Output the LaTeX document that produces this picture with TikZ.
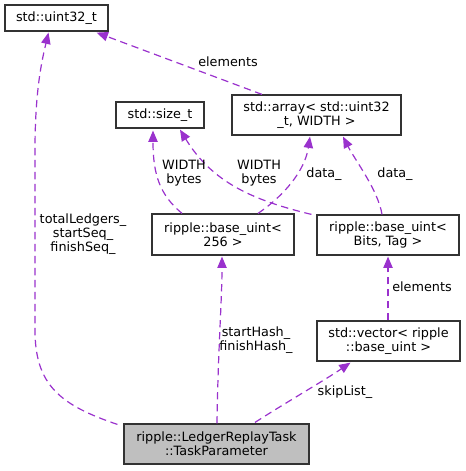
\documentclass[tikz,border=0pt]{standalone}
\usepackage{fontspec}
\setmainfont{DejaVu Sans}
\usetikzlibrary{arrows.meta,calc}
\definecolor{edgecol}{HTML}{9A32CD}
\definecolor{taskfill}{HTML}{BFBFBF}
\begin{document}
\begin{tikzpicture}[x=0.75pt,y=-0.75pt,
	cls/.style={draw=black!80,line width=0.9pt,fill=white,inner sep=0pt,align=center,font=\fontsize{9.6}{10.5}\selectfont},
	rel/.style={draw=edgecol,line width=0.9pt,dash pattern=on 5.5pt off 3.5pt,-{Triangle[length=8.5pt,width=7pt]}},
	lbl/.style={align=center,inner sep=0pt,font=\fontsize{9.6}{10.5}\selectfont}]
	\useasboundingbox (0,0) rectangle (465,471);

	% classes
	\node[cls,minimum width=103*0.75pt,minimum height=26*0.75pt] (uint32) at (56.5,18) {std::uint32\_t};
	\node[cls,minimum width=88*0.75pt,minimum height=26*0.75pt] (sizet) at (160,115) {std::size\_t};
	\node[cls,minimum width=169*0.75pt,minimum height=40*0.75pt] (array) at (316.5,115) {std::array< std::uint32\\\_t, WIDTH >};
	\node[cls,minimum width=142*0.75pt,minimum height=41*0.75pt] (bu256) at (223,234.5) {ripple::base\_uint<\\256 >};
	\node[cls,minimum width=142*0.75pt,minimum height=40*0.75pt] (bubits) at (388,235) {ripple::base\_uint<\\Bits, Tag >};
	\node[cls,minimum width=143*0.75pt,minimum height=40*0.75pt] (vec) at (388.5,341) {std::vector< ripple\\::base\_uint >};
	\node[cls,fill=taskfill,minimum width=185*0.75pt,minimum height=40*0.75pt] (task) at (216.5,444) {ripple::LedgerReplayTask\\::TaskParameter};

	% members
	\draw[rel] ($(task.north west)+(-6,1)$) .. controls (60,405) and (35,385) .. (35,330)
		-- (35,150) .. controls (35,90) and (42,60) .. ($(uint32.south)+(-8,1)$);
	\draw[rel] ($(task.north)+(0.5,0)$) .. controls (218,350) and (222,300) .. ($(bu256.south)+(-1,1)$);
	\draw[rel] ($(task.north)+(38.5,-1)$) .. controls (290,400) and (325,380) .. ($(vec.south)+(-38,1)$);
	\draw[rel] ($(vec.north)+(-0.5,0)$) -- ($(bubits.south)+(0,1)$);
	\draw[rel] ($(bu256.north)+(-41,0)$) .. controls (160,195) and (153,175) .. ($(sizet.south)+(-7,2)$);
	\draw[rel] ($(bubits.north west)+(-5,0)$) .. controls (252,200) and (212,182) .. ($(sizet.south)+(20,1)$);
	\draw[rel] ($(bu256.north)+(35,0)$) .. controls (285,195) and (305,170) .. ($(array.south)+(-6.5,1)$);
	\draw[rel] ($(bubits.north)+(-6,0)$) .. controls (378,190) and (355,160) .. ($(array.south)+(26.5,1)$);
	\draw[rel] ($(array.north)+(-54.5,0)$) -- ($(uint32.south east)+(-12,1)$);

	% labels
	\node[lbl] (lblTotal) at (83,234) {totalLedgers\_\\startSeq\_\\finishSeq\_};
	\node[lbl] (lblHash) at (256,340) {startHash\_\\finishHash\_};
	\node[lbl] (lblSkip) at (345,392) {skipList\_};
	\node[lbl] (lblElemV) at (422,287) {elements};
	\node[lbl] (lblElemA) at (228,62) {elements};
	\node[lbl] (lblWidthL) at (184,173) {WIDTH\\bytes};
	\node[lbl] (lblWidthR) at (259,173) {WIDTH\\bytes};
	\node[lbl] (lblDataL) at (324,174) {data\_};
	\node[lbl] (lblDataR) at (395,174) {data\_};
\end{tikzpicture}
\end{document}
